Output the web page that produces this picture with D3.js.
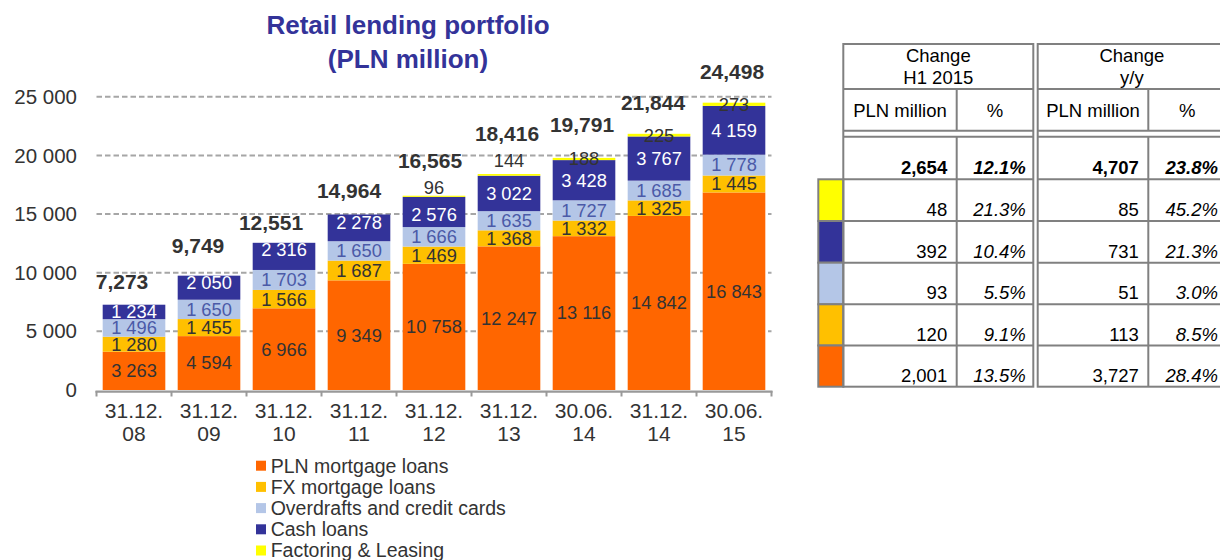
<!DOCTYPE html>
<html>
<head>
<meta charset="utf-8">
<script src="https://cdn.jsdelivr.net/npm/d3@7"></script>
<style>
  html, body { margin: 0; padding: 0; background: #fff; }
  svg { display: block; font-family: "Liberation Sans", Arial, sans-serif; }
</style>
</head>
<body>
<svg id="chart" width="1220" height="560"></svg>
<script>
// ---------------- DATA ----------------
const categories = ["31.12. 08", "31.12. 09", "31.12. 10", "31.12. 11", "31.12. 12", "31.12. 13", "30.06. 14", "31.12. 14", "30.06. 15"];
const seriesNames = ["PLN mortgage loans", "FX mortgage loans", "Overdrafts and credit cards", "Cash loans", "Factoring & Leasing"];
const plnMortgage = [3263, 4594, 6966, 9349, 10758, 12247, 13116, 14842, 16843];
const fxMortgage  = [1280, 1455, 1566, 1687, 1469, 1368, 1332, 1325, 1445];
const overdrafts  = [1496, 1650, 1703, 1650, 1666, 1635, 1727, 1685, 1778];
const cashLoans   = [1234, 2050, 2316, 2278, 2576, 3022, 3428, 3767, 4159];
const factoring   = [0, 0, 0, 0, 96, 144, 188, 225, 273];
const totals      = [7273, 9749, 12551, 14964, 16565, 18416, 19791, 21844, 24498];
const yTicks      = [0, 5000, 10000, 15000, 20000, 25000];

// table (rows top-to-bottom: total, factoring, cash loans, overdrafts, FX, PLN)
const tableRowSeries = [null, 4, 3, 2, 1, 0];
const h1ChangeAbs = [2654, 48, 392, 93, 120, 2001];
const h1ChangePct = [12.1, 21.3, 10.4, 5.5, 9.1, 13.5];
const yyChangeAbs = [4707, 85, 731, 51, 113, 3727];
const yyChangePct = [23.8, 45.2, 21.3, 3.0, 8.5, 28.4];

// ---------------- STYLE / LAYOUT ----------------
const colors = ["#FF6600", "#FFC000", "#B4C6E7", "#333399", "#FFFF00"];
const labelColors = ["#333", "#333", "#4b5aa8", "#fff", "#333"];
const textColor = "#333";
// label nudges (px) relative to default positions
const totalDx = [-12, -11, -13, -10, -4, -2, -2, -6, -2];
const totalDy = [23, 30, 20, 24, 35, 40, 33, 31, 31];
const factDy  = [0, 0, 0, 0, -8, -13, 1, 2, 1.5];
const cashDy  = [0, -5, -7, -5, 3, 0, 0, 0, 0];

const svg = d3.select("#chart");

// scales
const x = d3.scaleBand().domain(categories).range([96.5, 771.5]).paddingInner(0.165).paddingOuter(0.0825);
const y = d3.scaleLinear().domain([0, 25000]).range([390, 96.8]);

// title
const title = svg.append("text").attr("x", 408).attr("text-anchor", "middle")
  .attr("font-weight", "bold").attr("font-size", 26).attr("fill", "#333399");
title.append("tspan").attr("x", 408).attr("y", 34).text("Retail lending portfolio");
title.append("tspan").attr("x", 408).attr("y", 67.5).text("(PLN million)");

// gridlines
svg.append("g").selectAll("line").data(yTicks.filter(d => d > 0)).join("line")
  .attr("x1", 96.5).attr("x2", 771.5)
  .attr("y1", d => y(d)).attr("y2", d => y(d))
  .attr("stroke", "#a6a6a6").attr("stroke-width", 2).attr("stroke-dasharray", "5.5,3");

// y axis
const yAxis = d3.axisLeft(y).tickValues(yTicks).tickSize(0).tickPadding(20)
  .tickFormat(d => d3.format(",")(d).replace(/,/g, " "));
const gy = svg.append("g").attr("transform", "translate(97,0)").call(yAxis);
gy.select(".domain").remove();
gy.selectAll("text").attr("font-size", 20.5).attr("fill", textColor)
  .attr("font-family", "Liberation Sans, Arial, sans-serif");

// stacked data
const table = categories.map((c, i) => ({
  cat: c,
  s0: plnMortgage[i], s1: fxMortgage[i], s2: overdrafts[i], s3: cashLoans[i], s4: factoring[i]
}));
const keys = ["s0", "s1", "s2", "s3", "s4"];
const stacked = d3.stack().keys(keys)(table);

// bars
const layers = svg.append("g").selectAll("g").data(stacked).join("g")
  .attr("fill", (d, i) => colors[i]);
layers.selectAll("rect").data(d => d.filter(p => p[1] - p[0] > 0)).join("rect")
  .attr("x", d => x(d.data.cat))
  .attr("width", x.bandwidth())
  .attr("y", d => y(d[1]))
  .attr("height", d => y(d[0]) - y(d[1]));

// x axis line and boundary ticks
const r0 = x.range()[0], step = x.step();
svg.append("line").attr("x1", r0 - 1).attr("x2", x.range()[1] + 1)
  .attr("y1", 391.6).attr("y2", 391.6).attr("stroke", "#999").attr("stroke-width", 2.4);
svg.append("g").selectAll("line").data(d3.range(categories.length + 1)).join("line")
  .attr("x1", i => r0 + i * step).attr("x2", i => r0 + i * step)
  .attr("y1", 391).attr("y2", 396.5).attr("stroke", "#999").attr("stroke-width", 2);

// x labels via axis
const xAxis = d3.axisBottom(x).tickSize(0).tickPadding(0);
const gx = svg.append("g").attr("transform", "translate(0,392)").call(xAxis);
gx.select(".domain").remove();
gx.selectAll(".tick text").each(function (d) {
  const parts = d.split(" ");
  const t = d3.select(this).text(null).attr("y", 0).attr("dy", null)
    .attr("font-size", 21).attr("fill", textColor).attr("font-family", "Liberation Sans, Arial, sans-serif");
  t.append("tspan").attr("x", 0).attr("y", 25.5).text(parts[0]);
  t.append("tspan").attr("x", 0).attr("y", 48.8).text(parts[1]);
});

// segment labels
const fmtSp = d => d3.format(",")(d).replace(/,/g, " ");
stacked.forEach((layer, si) => {
  svg.append("g").selectAll("text").data(layer.map((p, i) => ({p, i})).filter(o => o.p[1] - o.p[0] > 0)).join("text")
    .attr("x", o => x(o.p.data.cat) + x.bandwidth() / 2)
    .attr("y", o => si === 4 ? y(o.p[1]) + factDy[o.i]
                  : (y(o.p[0]) + y(o.p[1])) / 2 + (si === 3 ? cashDy[o.i] : 0))
    .attr("dy", "0.35em")
    .attr("text-anchor", "middle")
    .attr("font-size", 18.3)
    .attr("fill", labelColors[si])
    .text(o => fmtSp(o.p[1] - o.p[0]));
});

// totals
svg.append("g").selectAll("text").data(totals).join("text")
  .attr("x", (d, i) => x(categories[i]) + x.bandwidth() / 2 + totalDx[i])
  .attr("y", (d, i) => y(d) - totalDy[i])
  .attr("dy", "0.35em").attr("text-anchor", "middle")
  .attr("font-weight", "bold").attr("font-size", 21).attr("fill", textColor)
  .text(d => d3.format(",")(d));

// legend
const legend = svg.append("g").selectAll("g").data(seriesNames).join("g")
  .attr("transform", (d, i) => `translate(256,${465.7 + i * 21.2})`);
legend.append("rect").attr("x", 0).attr("y", -5).attr("width", 10).attr("height", 10)
  .attr("fill", (d, i) => colors[i]);
legend.append("text").attr("x", 14.7).attr("dy", "0.35em").attr("font-size", 19.5)
  .attr("fill", textColor).text(d => d);

// ---------------- TABLE ----------------
const T = { swL: 818.3, L: 843.3, c1: 956.7, g1: 1033.3, g2: 1037.7, c3: 1148.3, R: 1226,
            top: 44, h1: 89, h2a: 130.7, h2b: 136.7,
            rows: [179.3, 221, 262.7, 304.3, 345.5, 386.7] };
const bottom = T.rows[T.rows.length - 1];
const tg = svg.append("g");
const lineC = "#808080", lw = 2;

// swatches
tg.selectAll("rect.sw").data(tableRowSeries.slice(1)).join("rect")
  .attr("class", "sw")
  .attr("x", T.swL).attr("width", T.L - T.swL)
  .attr("y", (d, i) => T.rows[i]).attr("height", (d, i) => T.rows[i + 1] - T.rows[i])
  .attr("fill", d => colors[d]).attr("stroke", lineC).attr("stroke-width", lw);

// group boxes
[[T.L, T.g1], [T.g2, T.R]].forEach(([a, b]) => {
  tg.append("rect").attr("x", a).attr("y", T.top).attr("width", b - a).attr("height", bottom - T.top)
    .attr("fill", "none").attr("stroke", lineC).attr("stroke-width", lw);
  const hy = [T.h1, T.h2a, T.h2b].concat(T.rows.slice(0, -1));
  hy.forEach(yy => tg.append("line").attr("x1", a).attr("x2", b).attr("y1", yy).attr("y2", yy)
    .attr("stroke", lineC).attr("stroke-width", lw));
});
[T.c1, T.c3].forEach(xx => {
  tg.append("line").attr("x1", xx).attr("x2", xx).attr("y1", T.h1).attr("y2", T.h2a)
    .attr("stroke", lineC).attr("stroke-width", lw);
  tg.append("line").attr("x1", xx).attr("x2", xx).attr("y1", T.h2b).attr("y2", bottom)
    .attr("stroke", lineC).attr("stroke-width", lw);
});

const tfs = 18.5;
function headText(cx, cy, s) {
  tg.append("text").attr("x", cx).attr("y", cy).attr("dy", "0.35em").attr("text-anchor", "middle")
    .attr("font-size", tfs).attr("fill", "#000").text(s);
}
headText((T.L + T.g1) / 2, 55.7, "Change");
headText((T.L + T.g1) / 2, 77.3, "H1 2015");
headText((T.g2 + T.R) / 2, 55.7, "Change");
headText((T.g2 + T.R) / 2, 77.3, "y/y");
headText((T.L + T.c1) / 2, 110.7, "PLN million");
headText((T.c1 + T.g1) / 2, 110.7, "%");
headText((T.g2 + T.c3) / 2, 110.7, "PLN million");
headText((T.c3 + T.R) / 2, 110.7, "%");

const fAbs = d3.format(","), fPct = d => d3.format(".1f")(d) + "%";
const cols = [
  { vals: h1ChangeAbs, fmt: fAbs, x: T.c1 - 9.5, italic: false },
  { vals: h1ChangePct, fmt: fPct, x: T.g1 - 7.5, italic: true },
  { vals: yyChangeAbs, fmt: fAbs, x: T.c3 - 9.5, italic: false },
  { vals: yyChangePct, fmt: fPct, x: T.R - 8, italic: true }
];
cols.forEach(c => {
  tg.append("g").selectAll("text").data(c.vals).join("text")
    .attr("x", c.x)
    .attr("y", (d, i) => T.rows[i] - 5)
    .attr("text-anchor", "end").attr("font-size", tfs).attr("fill", "#000")
    .attr("font-weight", (d, i) => i === 0 ? "bold" : "normal")
    .attr("font-style", c.italic ? "italic" : "normal")
    .text(d => c.fmt(d));
});
</script>
</body>
</html>
